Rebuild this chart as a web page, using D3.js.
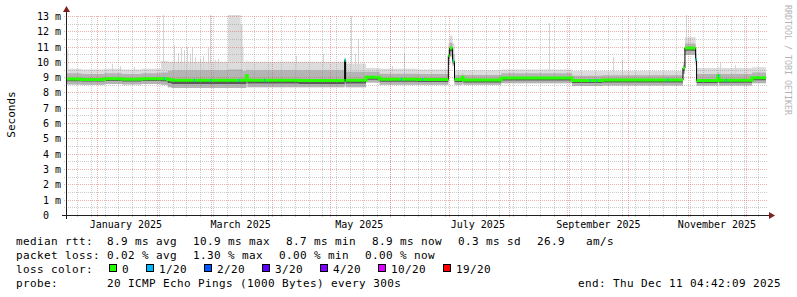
<!DOCTYPE html>
<html>
<head>
<meta charset="utf-8">
<script src="https://cdn.jsdelivr.net/npm/d3@7"></script>
<style>
  body { margin: 0; background: #fff; }
  text { font-family: "DejaVu Sans Mono", monospace; white-space: pre; }
</style>
</head>
<body>
<script>
// SmokePing style yearly latency graph (last 360 days)

const startTime = "2024-12-16 04:42:09";
const endTime = "2025-12-11 04:42:09";

// step samples: each value holds until the next time
const sampleTimes = [
  "2024-12-16 04:42", "2024-12-17 12:00", "2024-12-24 00:00", "2025-01-05 00:00",
  "2025-01-14 00:00", "2025-01-24 00:00", "2025-02-03 00:00", "2025-02-06 12:00",
  "2025-02-08 12:00", "2025-03-09 12:00", "2025-03-16 00:00", "2025-03-17 00:00",
  "2025-03-17 12:00", "2025-03-19 00:00", "2025-03-19 12:00", "2025-04-15 00:00",
  "2025-05-08 12:00", "2025-05-09 00:00", "2025-05-19 12:00", "2025-05-26 12:00",
  "2025-06-15 00:00", "2025-06-30 20:00", "2025-07-01 12:00", "2025-07-03 00:00",
  "2025-07-04 00:00", "2025-07-08 00:00", "2025-07-08 12:00", "2025-07-28 00:00",
  "2025-09-02 12:00", "2025-09-18 00:00", "2025-10-29 12:00", "2025-10-30 12:00",
  "2025-11-05 00:00", "2025-11-05 12:00", "2025-11-16 12:00", "2025-11-17 00:00",
  "2025-12-04 00:00"
];
// values in ms
const median = [8.88, 8.88, 8.85, 8.9, 8.86, 8.9, 8.9, 8.85, 8.8, 8.8, 8.8, 8.8,
  8.8, 9.1, 8.8, 8.78, 10.1, 8.8, 9.0, 8.87, 8.85, 10.4, 10.9, 10.05,
  8.85, 9.0, 8.82, 8.95, 8.78, 8.82, 9.6, 10.9, 10.15, 8.78, 9.07, 8.8, 8.97];
const pingMin = [8.52, 8.52, 8.5, 8.55, 8.52, 8.55, 8.5, 8.35, 8.3, 8.3, 8.3, 8.3,
  8.3, 8.6, 8.35, 8.35, 8.5, 8.35, 8.65, 8.5, 8.5, 9.8, 10.35, 9.75,
  8.5, 8.6, 8.5, 8.6, 8.42, 8.45, 9.2, 10.45, 9.8, 8.45, 8.6, 8.45, 8.6];
const pingLo = [8.74, 8.74, 8.71, 8.75, 8.72, 8.75, 8.74, 8.62, 8.56, 8.56, 8.56, 8.56,
  8.56, 8.85, 8.58, 8.56, 8.7, 8.58, 8.83, 8.7, 8.68, 10.2, 10.7, 9.9,
  8.68, 8.8, 8.66, 8.78, 8.62, 8.65, 9.4, 10.72, 10.0, 8.62, 8.8, 8.64, 8.8];
const pingHi = [9.25, 9.25, 9.2, 9.25, 9.2, 9.25, 9.3, 9.4, 9.45, 9.5, 9.5, 9.4,
  9.4, 9.5, 9.45, 9.45, 10.2, 9.35, 9.35, 9.22, 9.2, 10.8, 11.25, 10.5,
  9.15, 9.25, 9.15, 9.25, 9.1, 9.12, 9.8, 11.2, 10.5, 9.2, 9.3, 9.2, 9.3];
const pingMax = [10.8, 9.55, 9.5, 9.55, 9.5, 9.55, 10.05, 10.0, 10.0, 13.3, 12.4, 11.0,
  10.0, 10.1, 10.0, 10.0, 10.3, 9.9, 9.6, 9.55, 9.5, 11.2, 11.7, 11.2,
  9.45, 9.5, 9.45, 9.5, 9.4, 9.4, 10.0, 11.6, 10.8, 9.6, 9.7, 9.6, 9.65];

// single 12h samples where the slowest ping jumped up
const spikeTimes = [
  "2025-01-09 00:00", "2025-01-13 00:00", "2025-01-20 00:00", "2025-02-04 00:00",
  "2025-02-09 12:00", "2025-02-12 00:00", "2025-02-13 12:00", "2025-02-15 00:00",
  "2025-02-16 12:00", "2025-02-18 00:00", "2025-02-19 00:00", "2025-02-20 12:00",
  "2025-02-23 00:00", "2025-02-24 12:00", "2025-02-27 00:00", "2025-02-28 12:00",
  "2025-03-03 00:00", "2025-03-04 12:00", "2025-04-13 12:00", "2025-04-27 12:00",
  "2025-05-12 00:00", "2025-05-14 00:00", "2025-05-15 12:00", "2025-06-02 00:00",
  "2025-06-08 00:00", "2025-08-21 12:00", "2025-09-23 12:00", "2025-09-28 00:00",
  "2025-10-31 00:00", "2025-11-17 12:00", "2025-11-25 00:00"
];
const spikeMax = [9.85, 9.7, 9.65, 13.1, 11.1, 10.6, 10.9, 10.8, 10.95, 10.5, 10.9, 10.3,
  10.2, 10.4, 10.9, 13.1, 10.1, 10.2, 10.4, 10.5, 13.0, 10.5, 11.5, 9.75,
  10.6, 12.55, 10.3, 10.1, 13.1, 9.9, 9.8];

// samples with packet loss (index into lossLabels)
const lossTimes = [
  "2025-02-04 12:00", "2025-02-20 00:00", "2025-02-28 12:00", "2025-03-15 00:00",
  "2025-03-28 00:00", "2025-05-08 12:00", "2025-06-06 12:00", "2025-06-17 12:00",
  "2025-07-03 00:00", "2025-09-11 12:00", "2025-09-15 00:00", "2025-10-21 12:00",
  "2025-11-05 00:00", "2025-11-16 12:00", "2025-11-20 12:00"
];
const lossLevel = [1, 1, 1, 1, 1, 1, 1, 1, 1, 1, 1, 1, 1, 1, 1];

const lossLabels = ["0", "1/20", "2/20", "3/20", "4/20", "10/20", "19/20"];
const lossColors = ["#26ff00", "#00b8ff", "#0059ff", "#5e00ff", "#7e00ff", "#dd00ff", "#ff0000"];

const yTickValues = [0, 1, 2, 3, 4, 5, 6, 7, 8, 9, 10, 11, 12, 13];
const xTickLabels = ["January 2025", "March 2025", "May 2025", "July 2025", "September 2025", "November 2025"];

const rttStats = [8.9, 10.9, 8.7, 8.9];   // avg max min now
const rttSd = 0.3;
const amPerS = 26.9;
const lossStats = [0.02, 1.30, 0.00, 0.00];
const probeText = "20 ICMP Echo Pings (1000 Bytes) every 300s";
const endText = "end: Thu Dec 11 04:42:09 2025";

// ---------------------------------------------------------------

const parseT = s => d3.timeParse("%Y-%m-%d %H:%M:%S")(s) || d3.timeParse("%Y-%m-%d %H:%M")(s);
const t0 = parseT(startTime), t1 = parseT(endTime);

const x0 = 66, xsize = 700, y0 = 215, ysize = 200;

const x = d3.scaleTime().domain([t0, t1]).range([x0, x0 + xsize]);
const y = d3.scaleLinear().domain([0, 13.06]).range([y0, y0 - ysize]);
const px = v => Math.round(v) + 0.5;

const svg = d3.select("body").append("svg")
  .attr("width", 797)
  .attr("height", 297)
  .style("display", "block");

svg.append("rect").attr("width", 797).attr("height", 297).attr("fill", "#fff");

svg.append("clipPath").attr("id", "plot")
  .append("rect")
    .attr("x", x0).attr("y", y0 - ysize)
    .attr("width", xsize).attr("height", ysize);

const rows = sampleTimes.map((s, i) => ({
  t: parseT(s), med: median[i], min: pingMin[i], lo: pingLo[i], hi: pingHi[i], max: pingMax[i]
}));
const pts = rows.concat([Object.assign({}, rows[rows.length - 1], {t: t1})]);
const bisect = d3.bisector(d => d.t).right;
const rowAt = t => rows[Math.max(0, bisect(rows, t) - 1)];
const halfDay = t => d3.timeHour.offset(t, 12);

const band = (a, b) => d3.area()
  .curve(d3.curveStepAfter)
  .x(d => x(d.t))
  .y0(d => y(d[a]))
  .y1(d => y(d[b]));

const smoke = svg.append("g").attr("clip-path", "url(#plot)");

smoke.append("path").datum(pts)
  .attr("fill", "#dcdcdc")
  .attr("d", band("min", "max"));

// narrow spikes of the slowest ping
smoke.append("g")
  .attr("fill", "#d4d4d4")
  .attr("shape-rendering", "crispEdges")
  .selectAll("rect")
  .data(spikeTimes.map((s, i) => ({t: parseT(s), max: spikeMax[i]})))
  .join("rect")
    .attr("x", d => Math.round(x(d.t)))
    .attr("width", d => Math.max(1, Math.round(x(halfDay(d.t))) - Math.round(x(d.t))))
    .attr("y", d => y(d.max))
    .attr("height", d => y(rowAt(d.t).med) - y(d.max));

smoke.append("path").datum(pts)
  .attr("fill", "#b4b4b4")
  .attr("d", band("min", "hi"));

smoke.append("path").datum(pts)
  .attr("fill", "#5a5a5a")
  .attr("d", band("lo", "med"));

// grid (dotted, drawn over the smoke)
const grid = svg.append("g")
  .attr("stroke-dasharray", "1,1")
  .attr("fill", "none")
  .attr("shape-rendering", "crispEdges");
const minorCol = "rgba(143,143,143,0.45)";
const majorCol = "rgba(222,79,79,0.45)";

y.ticks(26).filter(v => v % 1 !== 0).forEach(v => {
  grid.append("line")
    .attr("x1", x0 - 2).attr("x2", x0 + xsize + 2)
    .attr("y1", px(y(v))).attr("y2", px(y(v)))
    .attr("stroke", minorCol);
});
d3.timeWeek.range(t0, t1).forEach(t => {
  grid.append("line")
    .attr("x1", px(x(t))).attr("x2", px(x(t)))
    .attr("y1", y0 + 2).attr("y2", y0 - ysize)
    .attr("stroke", minorCol);
});
yTickValues.filter(v => v > 0).forEach(v => {
  grid.append("line")
    .attr("x1", x0 - 2).attr("x2", x0 + xsize + 2)
    .attr("y1", px(y(v))).attr("y2", px(y(v)))
    .attr("stroke", majorCol);
});
d3.timeMonth.range(t0, t1).forEach(t => {
  grid.append("line")
    .attr("x1", px(x(t))).attr("x2", px(x(t)))
    .attr("y1", y0 + 2).attr("y2", y0 - ysize)
    .attr("stroke", majorCol);
});

// median: thin black step line, loss coloured thick segments on top
const medLine = d3.line().curve(d3.curveStepAfter).x(d => x(d.t)).y(d => y(d.med));
const lines = svg.append("g").attr("clip-path", "url(#plot)").attr("fill", "none");

lines.append("path").datum(pts)
  .attr("stroke", "#000")
  .attr("stroke-width", 1)
  .attr("d", medLine);

const runs = [];
let run = [rows[0]];
for (let i = 1; i < rows.length; i++) {
  if (Math.abs(rows[i].med - rows[i - 1].med) > 0.3) {
    run.push(Object.assign({}, rows[i - 1], {t: rows[i].t}));
    runs.push(run);
    run = [];
  }
  run.push(rows[i]);
}
run.push(Object.assign({}, rows[rows.length - 1], {t: t1}));
runs.push(run);

lines.selectAll("path.med")
  .data(runs)
  .join("path")
    .attr("class", "med")
    .attr("stroke", lossColors[0])
    .attr("stroke-width", 3)
    .attr("d", medLine);

lines.selectAll("line.loss")
  .data(lossTimes.map((s, i) => ({t: parseT(s), level: lossLevel[i]})))
  .join("line")
    .attr("class", "loss")
    .attr("x1", d => x(d.t))
    .attr("x2", d => x(halfDay(d.t)))
    .attr("y1", d => y(rowAt(d.t).med))
    .attr("y2", d => y(rowAt(d.t).med))
    .attr("stroke", d => lossColors[d.level])
    .attr("stroke-width", 3);

// axes
const axisCol = "#1f1f1f", arrowCol = "#7f1f1f";
svg.append("line")
  .attr("x1", x0 - 4).attr("x2", x0 + xsize + 4)
  .attr("y1", y0 + 0.5).attr("y2", y0 + 0.5)
  .attr("stroke", axisCol);
svg.append("line")
  .attr("x1", x0 + 0.5).attr("x2", x0 + 0.5)
  .attr("y1", y0 + 4).attr("y2", y0 - ysize - 4)
  .attr("stroke", axisCol);
svg.append("path")
  .attr("fill", arrowCol)
  .attr("d", `M${x0 + xsize + 3},${y0 - 3}L${x0 + xsize + 9},${y0 + 0.5}L${x0 + xsize + 3},${y0 + 4}Z`);
svg.append("path")
  .attr("fill", arrowCol)
  .attr("d", `M${x0 - 3},${y0 - ysize - 3}L${x0 + 0.5},${y0 - ysize - 9}L${x0 + 4},${y0 - ysize - 3}Z`);

// tick labels
svg.append("g")
  .attr("font-size", 10)
  .attr("text-anchor", "end")
  .selectAll("text")
  .data(yTickValues)
  .join("text")
    .attr("x", x0 - 5)
    .attr("y", d => Math.round(y(d)) + 4)
    .text(d => d === 0 ? "0\u00a0\u00a0" : `${d} m`);

const parseMonth = d3.timeParse("%B %Y");
svg.append("g")
  .attr("font-size", 10)
  .attr("text-anchor", "middle")
  .selectAll("text")
  .data(xTickLabels)
  .join("text")
    .attr("x", d => x(d3.timeDay.offset(parseMonth(d), 15)))
    .attr("y", 227.5)
    .text(d => d);

svg.append("text")
  .attr("transform", "translate(15,114.5) rotate(-90)")
  .attr("font-size", 11)
  .attr("text-anchor", "middle")
  .text("Seconds");

svg.append("text")
  .attr("transform", "translate(785,5) rotate(90)")
  .attr("font-size", 8.3)
  .attr("fill", "#b4b4b4")
  .text("RRDTOOL / TOBI OETIKER");

// legend
const charW = 7, gap = 16, legX = 16;
const leg = svg.append("g").attr("font-size", 11).attr("letter-spacing", "0.38px");

function legendRow(yb, items) {
  let xx = legX;
  items.forEach(s => {
    leg.append("text").attr("x", xx).attr("y", yb).text(s);
    xx += s.length * charW + gap;
  });
}

const f1 = d3.format(".1f"), f2 = d3.format(".2f");
legendRow(244.5, [
  `median rtt:  ${f1(rttStats[0])} ms avg`,
  `${f1(rttStats[1])} ms max`,
  `${f1(rttStats[2])} ms min`,
  `${f1(rttStats[3])} ms now`,
  `${f1(rttSd)} ms sd`,
  `${f1(amPerS)}   am/s`
]);
legendRow(258.5, [
  `packet loss: ${f2(lossStats[0])} % avg`,
  `${f2(lossStats[1])} % max`,
  `${f2(lossStats[2])} % min`,
  `${f2(lossStats[3])} % now`
]);

leg.append("text").attr("x", legX).attr("y", 272.5).text("loss color:");
let bx = 109;
lossLabels.forEach((lab, i) => {
  leg.append("rect")
    .attr("x", bx + 0.5).attr("y", 264.5)
    .attr("width", 7).attr("height", 7)
    .attr("fill", lossColors[i])
    .attr("stroke", "#000");
  leg.append("text").attr("x", bx + 13).attr("y", 272.5).text(lab);
  bx += 13 + lab.length * charW + 17;
});

leg.append("text").attr("x", legX).attr("y", 286.5).text(`probe:       ${probeText}`);
leg.append("text").attr("x", 781).attr("y", 286.5).attr("text-anchor", "end").text(endText);
</script>
</body>
</html>
